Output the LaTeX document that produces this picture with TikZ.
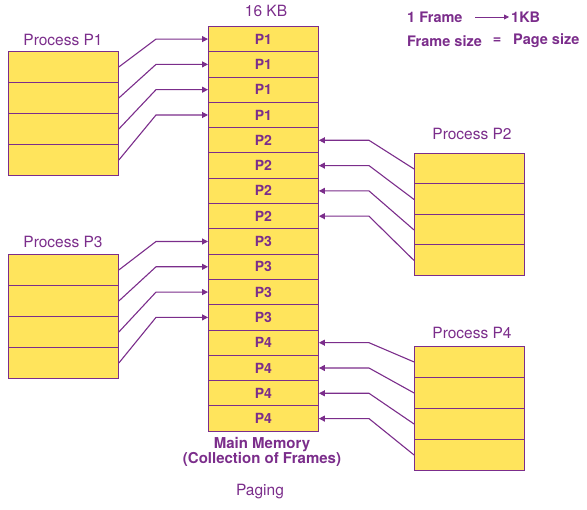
\documentclass[tikz,border=0pt]{standalone}
\usepackage{fontspec}
\setmainfont{TeX Gyre Heros}
\usetikzlibrary{arrows.meta,calc}
\definecolor{pur}{HTML}{7B2D8B}
\definecolor{yel}{HTML}{FFE45C}
\begin{document}
\begin{tikzpicture}[x=1pt,y=-1pt,
  frame/.style={draw=pur,fill=yel,line width=0.9pt,minimum width=110pt,minimum height=25.3pt,inner sep=0pt,anchor=north west,font=\bfseries\fontsize{14}{14}\selectfont,text=pur},
  prow/.style={draw=pur,fill=yel,line width=0.9pt,minimum width=110pt,minimum height=31pt,inner sep=0pt,anchor=north west},
  lbl/.style={text=pur,font=\fontsize{15.5}{15.5}\selectfont,inner sep=0pt},
  leg/.style={text=pur,font=\bfseries\fontsize{14.5}{14.5}\selectfont,inner sep=0pt},
  arr/.style={draw=pur,line width=1.1pt,-{Triangle[length=6pt,width=6pt]}}]
\useasboundingbox (0,0) rectangle (587,510);
% memory
\foreach \i/\t in {1/P1,2/P1,3/P1,4/P1,5/P2,6/P2,7/P2,8/P2,9/P3,10/P3,11/P3,12/P3,13/P4,14/P4,15/P4,16/P4}{
  \node[frame] (m\i) at (208,{26+(\i-1)*25.3}) {\t};
}
% processes
\foreach \j in {1,2,3,4}{
  \node[prow] (a\j) at (8,{51+(\j-1)*31}) {};
  \node[prow] (b\j) at (414,{153+(\j-1)*30.5}) {};
  \node[prow] (c\j) at (8,{254+(\j-1)*31}) {};
  \node[prow] (d\j) at (414,{346+(\j-1)*31}) {};
}
\node[lbl] (la) at (63,40) {Process P1};
\node[lbl] (lb) at (472,134) {Process P2};
\node[lbl] (lc) at (63,242) {Process P3};
\node[lbl] (ld) at (472,333) {Process P4};
\node[lbl] (kb) at (266,11) {16 KB};
\node[lbl,font=\bfseries\fontsize{15}{15.5}\selectfont,align=center] (mm) at (262,452) {Main Memory\\(Collection of Frames)};
\node[lbl] (pg) at (260,492) {Paging};
% legend
\node[leg,anchor=west] (f1) at (407,17) {1 Frame};
\node[leg,anchor=west] (k1) at (511,17) {1KB};
\coordinate (q1) at (475,17);
\draw[pur,line width=0.8pt,-{Triangle[length=5pt,width=5pt]}] (q1) -- ([xshift=-2pt]k1.west);
\node[leg,anchor=west] (fs) at (407,41) {Frame size};
\node[leg] (eq) at (497,41) {=};
\node[leg,anchor=west] (ps) at (513,41) {Page size};
% arrows
\coordinate (xl) at (156,0);
\coordinate (xr) at (369,0);
\foreach \j [evaluate=\j as \k using int(\j+8)] in {1,2,3,4}{
  \draw[arr] (a\j.east) -- (m\j.west -| xl) -- (m\j.west);
  \draw[arr] (c\j.east) -- (m\k.west -| xl) -- (m\k.west);
}
\foreach \j [evaluate=\j as \k using int(\j+4), evaluate=\j as \l using int(\j+12)] in {1,2,3,4}{
  \draw[arr] (b\j.west) -- (m\k.east -| xr) -- (m\k.east);
  \draw[arr] (d\j.west) -- (m\l.east -| xr) -- (m\l.east);
}
\end{tikzpicture}
\end{document}
